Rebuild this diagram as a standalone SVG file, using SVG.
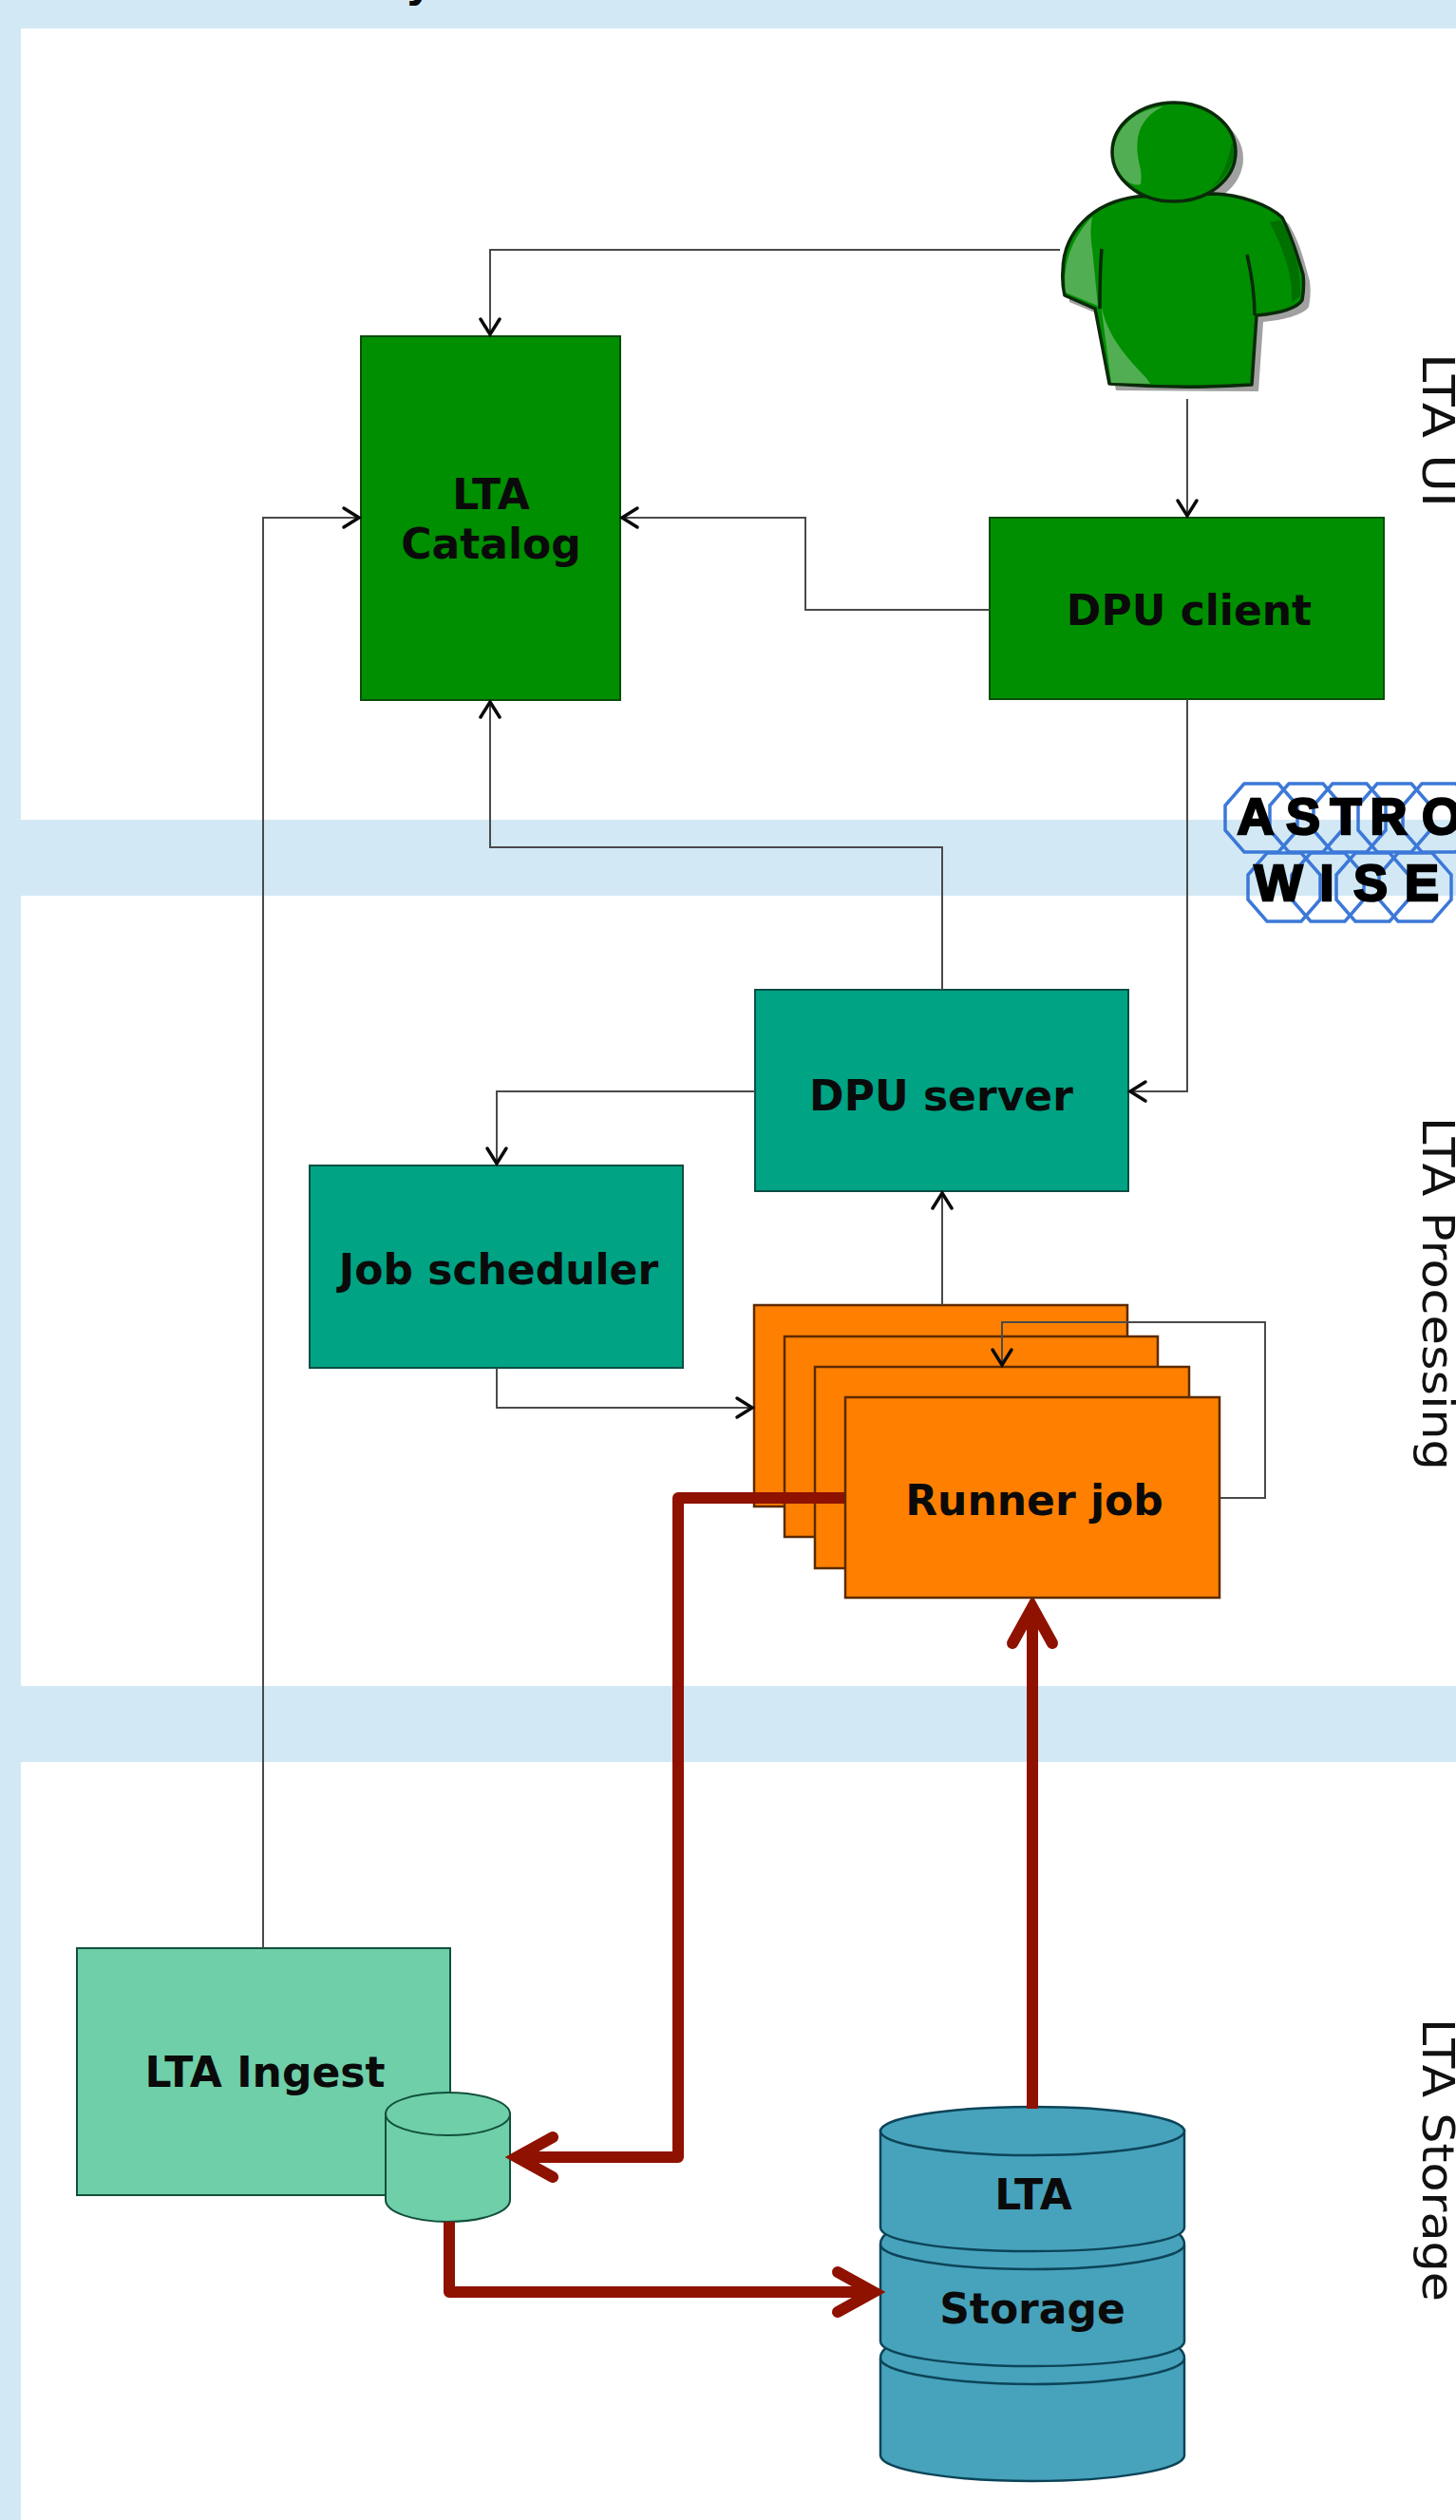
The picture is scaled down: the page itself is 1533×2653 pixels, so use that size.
<svg xmlns="http://www.w3.org/2000/svg" xmlns:xlink="http://www.w3.org/1999/xlink" width="1533" height="2653" viewBox="0 0 1533 2653">
<style>
.lbl{font-family:"DejaVu Sans",sans-serif;font-weight:bold;font-size:44px;fill:#0a0a0a;text-anchor:middle}
.side{font-family:"DejaVu Sans",sans-serif;font-size:47px;fill:#111}
.logo{font-family:"Liberation Sans",Arial,sans-serif;font-weight:bold;font-size:54px;fill:#000;stroke:#000;stroke-width:2.5;text-anchor:middle}
.thin{fill:none;stroke:#4a4a4a;stroke-width:2;marker-end:url(#open)}
.red{fill:none;stroke:#8f1100;stroke-width:12;stroke-linejoin:round;marker-end:url(#openred)}
.green{fill:#008f00;stroke:#0b4d0b;stroke-width:2}
.teal{fill:#00a383;stroke:#0a4f45;stroke-width:2}
.orange{fill:#ff8000;stroke:#5c2a00;stroke-width:2.5}
.ingest{fill:#6fcfa8;stroke:#11503c;stroke-width:2}
.store{fill:#47a3bb;stroke:#0c4459;stroke-width:2.5}
.rim{fill:none;stroke:#0c4459;stroke-width:2.5}
.oct{fill:none;stroke:#3c78d8;stroke-width:3.5}
.out{stroke:#0a2a0a;stroke-width:3.5;stroke-linejoin:round}
</style>
<defs>
<marker id="open" markerUnits="userSpaceOnUse" markerWidth="30" markerHeight="32" refX="26" refY="16" orient="auto">
<path d="M8 6L24 16L8 26" fill="none" stroke="#0a0a0a" stroke-width="3.5" stroke-linecap="round"/>
</marker>
<marker id="openred" markerUnits="userSpaceOnUse" markerWidth="70" markerHeight="70" refX="51" refY="35" orient="auto">
<path d="M14 14L52 35L14 56" fill="none" stroke="#8f1100" stroke-width="12" stroke-linecap="round" stroke-linejoin="miter"/>
</marker>
<path id="octa" class="oct" d="M-18-36H18L38-13V13L18 36H-18L-38 13V-13Z"/>
</defs>
<rect width="1533" height="2653" fill="#d2e9f5"/>
<g id="panels" fill="#fff">
<rect x="22" y="30" width="1511" height="833"/>
<rect x="22" y="943" width="1511" height="832"/>
<rect x="22" y="1855" width="1511" height="798"/>
</g>
<text x="441" y="-3" class="lbl">y</text>

<g id="logo">
<use xlink:href="#octa" x="1328" y="861"/><use xlink:href="#octa" x="1375" y="861"/><use xlink:href="#octa" x="1421" y="861"/><use xlink:href="#octa" x="1468" y="861"/><use xlink:href="#octa" x="1515" y="861"/>
<use xlink:href="#octa" x="1352" y="934"/><use xlink:href="#octa" x="1398" y="934"/><use xlink:href="#octa" x="1445" y="934"/><use xlink:href="#octa" x="1490" y="934"/>
<text class="logo" x="1322 1372 1417 1462 1518" y="878">ASTRO</text>
<text class="logo" x="1346 1397 1443 1497" y="948">WISE</text>
</g>

<g id="person">
<path fill="#8a8a8a" opacity=".8" d="M1204 214C1160 220 1126 250 1126 293V318L1160 332L1175 411L1325 412L1330 339C1350 337 1372 332 1378 323C1380 312 1380 305 1379 296C1372 270 1368 255 1357 236C1340 220 1310 212 1286 211Z"/>
<ellipse cx="1243" cy="167" rx="66" ry="52" fill="#8a8a8a" opacity=".8"/>
<path class="green out" d="M1197 207C1150 213 1119 245 1119 286C1118 298 1120 306 1121 311L1153 325L1168 404C1220 408 1270 408 1318 405L1323 332C1345 330 1365 325 1371 316C1373 305 1373 298 1372 289C1365 265 1358 245 1350 229C1335 215 1305 205 1279 204Z"/>
<path fill="#52ae52" d="M1122 308C1119 285 1124 255 1150 228C1148 240 1148 250 1150 262L1156 322Z"/>
<path fill="#52ae52" d="M1159 320C1165 350 1180 370 1207 398L1211 404L1170 403Z"/>
<path fill="#007000" d="M1337 234L1348 232C1360 250 1370 280 1369 312L1360 318C1362 290 1350 260 1337 234Z"/>
<ellipse cx="1236" cy="160" rx="65" ry="52" fill="#008f00"/>
<path fill="#52ae52" d="M1225 112C1190 116 1172 140 1172 165C1174 180 1188 198 1201 194C1204 175 1195 170 1198 145C1201 128 1212 118 1225 112Z"/>
<path fill="#007000" d="M1297 150C1292 175 1285 190 1275 197C1290 190 1300 170 1301 155Z"/>
<ellipse cx="1236" cy="160" rx="65" ry="52" fill="none" class="out"/>
<path fill="none" class="out" d="M1160 262C1158 285 1158 305 1158 325M1313 268C1318 290 1321 310 1321 332"/>
</g>

<g id="lta-catalog">
<rect class="green" x="380" y="354" width="273" height="383"/>
<text class="lbl" x="517" y="536">LTA</text><text class="lbl" x="517" y="588">Catalog</text>
</g>
<g id="dpu-client">
<rect class="green" x="1042" y="545" width="415" height="191"/>
<text class="lbl" x="1252" y="658">DPU client</text>
</g>
<g id="dpu-server">
<rect class="teal" x="795" y="1042" width="393" height="212"/>
<text class="lbl" x="991" y="1169">DPU server</text>
</g>
<g id="job-scheduler">
<rect class="teal" x="326" y="1227" width="393" height="213"/>
<text class="lbl" x="525" y="1352">Job scheduler</text>
</g>
<g id="runner-stack">
<rect class="orange" x="794" y="1374" width="393" height="212"/>
<rect class="orange" x="826" y="1407" width="393" height="211"/>
<rect class="orange" x="858" y="1439" width="394" height="212"/>
</g>
<g id="lta-ingest">
<rect class="ingest" x="81" y="2051" width="393" height="260"/>
<text class="lbl" x="279" y="2197">LTA Ingest</text>
</g>
<g id="ingest-cache">
<path class="ingest" d="M406 2225V2316C406 2329 436 2339 471.500 2339S537 2329 537 2316V2225Z"/>
<ellipse class="ingest" cx="471.500" cy="2225.500" rx="65.500" ry="22.500"/>
</g>
<g id="lta-storage">
<path class="store" d="M942 2467C934 2470 927 2475 927 2483V2585C927 2600 1000 2612 1087 2612S1247 2600 1247 2585V2483C1247 2475 1240 2470 1232 2467Z"/>
<path class="rim" d="M927 2483C927 2497 1000 2510 1087 2510S1247 2497 1247 2483"/>
<path class="store" d="M942 2347C934 2350 927 2355 927 2363V2465C927 2480 1000 2491 1087 2491S1247 2480 1247 2465V2363C1247 2355 1240 2350 1232 2347Z"/>
<path class="rim" d="M927 2363C927 2377 1000 2389 1087 2389S1247 2377 1247 2363"/>
<path class="store" d="M927 2243V2345C927 2360 1000 2370 1087 2370S1247 2360 1247 2345V2243Z"/>
<ellipse class="store" cx="1087" cy="2243.500" rx="160" ry="25.500"/>
<text class="lbl" x="1088" y="2326">LTA</text>
<text class="lbl" x="1087" y="2446">Storage</text>
</g>

<g id="connectors">
<path class="thin" d="M1116 263H516V354"/>
<path class="thin" d="M1250 420V545"/>
<path class="thin" d="M1042 642H848V545H653"/>
<path class="thin" d="M1250 736V1149H1188"/>
<path class="thin" d="M992 1042V892H516V737"/>
<path class="thin" d="M795 1149H523V1227"/>
<path class="thin" d="M523 1440V1482H794"/>
<path class="thin" d="M992 1374V1254"/>
<path class="thin" d="M277 2051V545H380"/>
<path class="thin" d="M1284 1577H1332V1392H1055V1439"/>
<path class="red" d="M890 1577H714V2271H545"/>
<path class="red" d="M473 2339V2413H919"/>
<path class="red" d="M1087 2220V1693"/>
</g>

<g id="runner-job">
<rect class="orange" x="890" y="1471" width="394" height="211"/>
<text class="lbl" x="1089" y="1595">Runner job</text>
</g>

<g id="side-labels">
<text class="side" textLength="162" lengthAdjust="spacingAndGlyphs" transform="translate(1498 372) rotate(90)">LTA UI</text>
<text class="side" textLength="372" lengthAdjust="spacingAndGlyphs" transform="translate(1498 1176) rotate(90)">LTA Processing</text>
<text class="side" textLength="298" lengthAdjust="spacingAndGlyphs" transform="translate(1498 2125) rotate(90)">LTA Storage</text>
</g>
</svg>
